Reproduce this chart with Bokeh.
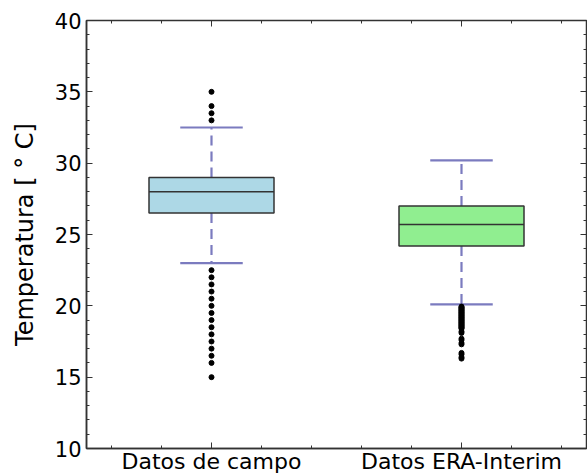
from bokeh.plotting import figure
from bokeh.models import LinearAxis, FixedTicker, ColumnDataSource
from bokeh.embed import file_html
from bokeh.resources import INLINE

# ---- data ----
categories = ["Datos de campo", "Datos ERA-Interim"]
positions = [1, 2]
q1 = [26.5, 24.2]
median = [28.0, 25.7]
q3 = [29.0, 27.0]
whisker_low = [23.0, 20.1]
whisker_high = [32.5, 30.2]
box_colors = ["#add8e6", "#90ee90"]

outliers_campo = [35.0, 34.0, 33.5, 33.0,
                  22.5, 22.0, 21.5, 21.0, 20.5, 20.0, 19.5, 19.0, 18.5,
                  18.0, 17.5, 17.0, 16.5, 16.0, 15.0]
outliers_era = [19.95, 19.9, 19.85, 19.8, 19.75, 19.7, 19.65, 19.6, 19.55, 19.5,
                19.45, 19.4, 19.35, 19.3, 19.25, 19.2, 19.15, 19.1, 19.05, 19.0,
                18.95, 18.9, 18.85, 18.8, 18.75, 18.7, 18.65, 18.6, 18.55, 18.5,
                18.45, 18.4, 18.2, 18.1, 17.7, 17.6, 17.4, 17.3, 16.7, 16.6,
                16.4, 16.3]

y_ticks = [10, 15, 20, 25, 30, 35, 40]
y_minor = list(range(10, 41))
x_minor = [0.6, 0.8, 1.2, 1.4, 1.6, 1.8, 2.2, 2.4]

# ---- styles ----
box_width = 0.5
cap_half = 0.125
whisker_color = "#7b7bbf"
edge_color = "#333333"
font = "DejaVu Sans"

p = figure(width=587, height=476, x_range=(0.5, 2.5), y_range=(10, 40),
           output_backend="svg", toolbar_location=None,
           min_border_left=86, min_border_right=1, min_border_top=20,
           min_border_bottom=27)
p.xgrid.visible = False
p.ygrid.visible = False
p.outline_line_color = edge_color
p.outline_line_width = 1.5
p.background_fill_color = "white"
p.border_fill_color = "white"

src = ColumnDataSource(dict(
    x=positions, q1=q1, med=median, q3=q3, lo=whisker_low, hi=whisker_high,
    color=box_colors,
    x_l=[x - box_width / 2 for x in positions],
    x_r=[x + box_width / 2 for x in positions],
    c_l=[x - cap_half for x in positions],
    c_r=[x + cap_half for x in positions],
))

# whiskers (dashed)
p.segment(x0="x", y0="q3", x1="x", y1="hi", source=src, line_color=whisker_color,
          line_width=2.2, line_dash="10 6")
p.segment(x0="x", y0="q1", x1="x", y1="lo", source=src, line_color=whisker_color,
          line_width=2.2, line_dash="10 6")
# caps
p.segment(x0="c_l", y0="hi", x1="c_r", y1="hi", source=src, line_color=whisker_color, line_width=2.2)
p.segment(x0="c_l", y0="lo", x1="c_r", y1="lo", source=src, line_color=whisker_color, line_width=2.2)
# boxes
p.vbar(x="x", width=box_width, bottom="q1", top="q3", source=src,
       fill_color="color", line_color=edge_color, line_width=1.5)
# medians
p.segment(x0="x_l", y0="med", x1="x_r", y1="med", source=src, line_color=edge_color, line_width=1.5)

# outliers
p.scatter([positions[0]] * len(outliers_campo), outliers_campo, size=5,
          color="black", line_color="black")
p.scatter([positions[1]] * len(outliers_era), outliers_era, size=5,
          color="black", line_color="black")

# bottom axis
xa = p.xaxis[0]
xa.ticker = FixedTicker(ticks=positions, minor_ticks=x_minor)
xa.major_label_overrides = {positions[i]: categories[i] for i in range(2)}
# left axis
ya = p.yaxis[0]
ya.ticker = FixedTicker(ticks=y_ticks, minor_ticks=y_minor)
ya.axis_label = "Temperatura [ \u00b0 C]"

for ax in (xa, ya):
    ax.axis_line_color = edge_color
    ax.axis_line_width = 1.5
    ax.major_tick_in = 6
    ax.major_tick_out = 0
    ax.minor_tick_in = 3
    ax.minor_tick_out = 0
    ax.major_tick_line_color = edge_color
    ax.minor_tick_line_color = edge_color
    ax.major_label_text_font = font
    ax.major_label_text_color = "black"

xa.major_label_text_font_size = "22px"
xa.major_label_standoff = 0
ya.major_label_text_font_size = "21px"
ya.major_label_standoff = 5
ya.axis_label_text_font = font
ya.axis_label_text_font_style = "normal"
ya.axis_label_text_font_size = "24px"
ya.axis_label_text_color = "black"
ya.axis_label_standoff = 13

# mirrored axes (ticks only, empty labels)
ra = LinearAxis(ticker=FixedTicker(ticks=y_ticks, minor_ticks=y_minor))
ra.major_label_overrides = {t: "" for t in y_ticks}
ta = LinearAxis(ticker=FixedTicker(ticks=positions, minor_ticks=x_minor))
ta.major_label_overrides = {t: "" for t in positions}
for ax in (ra, ta):
    ax.major_label_standoff = 0
    ax.major_tick_in = 6
    ax.major_tick_out = 0
    ax.minor_tick_in = 3
    ax.minor_tick_out = 0
    ax.axis_line_color = edge_color
    ax.major_tick_line_color = edge_color
    ax.minor_tick_line_color = edge_color
p.add_layout(ra, "right")
p.add_layout(ta, "above")

open("out.html", "w").write(file_html(p, INLINE))
